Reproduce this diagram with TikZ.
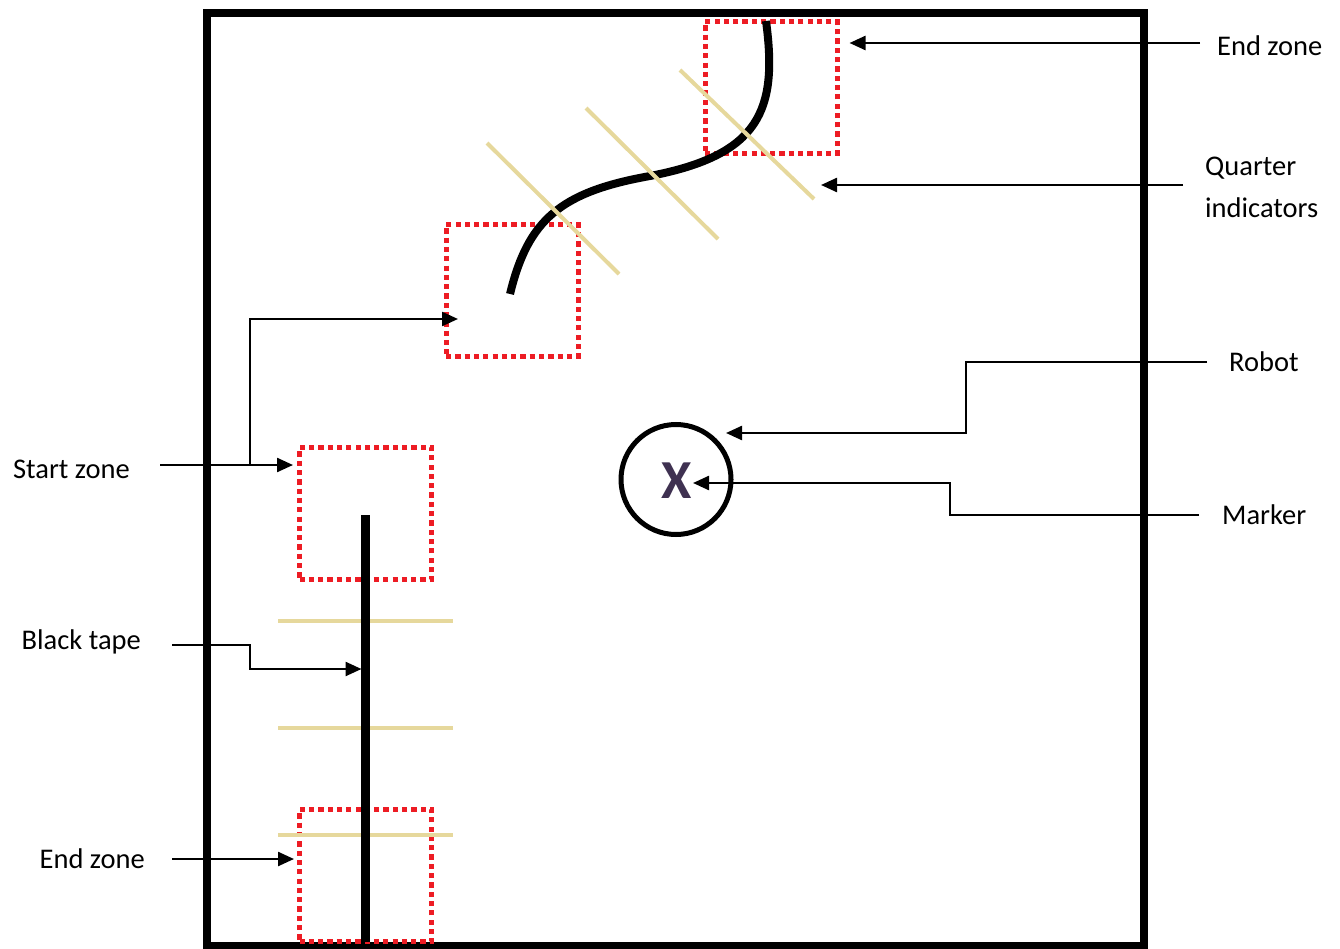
\documentclass[tikz,border=0pt]{standalone}
\usepackage{fontspec}
\setmainfont{Carlito}
\usetikzlibrary{arrows.meta,positioning}
\definecolor{zonered}{HTML}{ED1C24}
\definecolor{quartertan}{HTML}{E6D89C}
\definecolor{markerpurple}{HTML}{3F3151}

\begin{document}
\begin{tikzpicture}[x=1pt,y=-1pt,
   zone/.style={draw=zonered,line width=5pt,dash pattern=on 5.2pt off 4.1pt,
      minimum size=132pt,inner sep=0pt},
   quarter/.style={draw=quartertan,line width=4pt},
   tape/.style={line width=9pt},
   pointer/.style={-{Triangle[length=16pt,width=14pt]},line width=2.4pt},
   lbl/.style={font=\fontsize{28.5}{42}\selectfont,inner sep=0pt,align=left}]
\useasboundingbox (0,0) rectangle (1340,949);
\draw[line width=7.5pt] (207,13) rectangle (1144,946);
% start and end zones
\node[zone] (endcurve) at (771,87.5) {};
\node[zone] (startcurve) at (512,290.5) {};
\node[zone] (starttape) at (365.5,513.5) {};
\node[zone] (endtape) at (365.5,875.5) {};
% curved tape
\draw[line width=8pt] (510,294) .. controls (528,220) and (560,192) .. (650,176)
   .. controls (760,155) and (778,110) .. (766,21);
% quarter indicators
\foreach \xa/\ya/\xb/\yb in {487/143/619/274,586/108/718/239,680/70/814/199}
   \draw[quarter] (\xa,\ya) -- (\xb,\yb);
\foreach \y in {621,728,835}
   \draw[quarter] (278,\y) -- (453,\y);
% straight tape
\coordinate (tapetop) at (365.5,515);
\coordinate (tapebot) at (365.5,942);
\draw[tape] (tapetop) -- (tapebot);
% robot and marker
\node[draw,circle,line width=5pt,minimum size=110pt,inner sep=0pt] (robot) at (676,479.5) {};
\node[font=\fontsize{55}{60}\selectfont\bfseries,text=markerpurple,inner sep=0pt] (marker) at (677,481) {X};
% labels
\coordinate (endcurvetail) at (1200,43);
\coordinate (quartertail) at (1183,185);
\coordinate (robottail) at (1207,362);
\coordinate (markertail) at (1199,515);
\coordinate (starttail) at (160,465);
\coordinate (tapetail) at (172,645);
\coordinate (endtapetail) at (172,859);
\node[lbl,right=17pt of endcurvetail,yshift=-3pt] (endcurvelbl) {End zone};
\node[lbl,right=22pt of quartertail,yshift=-2pt] (quarterlbl) {Quarter\\indicators};
\node[lbl,right=22pt of robottail] (robotlbl) {Robot};
\node[lbl,right=23pt of markertail] (markerlbl) {Marker};
\node[lbl,left=30pt of starttail,yshift=-4pt] (startlbl) {Start zone};
\node[lbl,left=31pt of tapetail,yshift=3pt] (tapelbl) {Black tape};
\node[lbl,left=27pt of endtapetail] (endtapelbl) {End zone};
% pointers
\coordinate (fork) at (250,465);
\draw[pointer] (endcurvetail) -- ([xshift=10pt]endcurve.east |- endcurvetail);
\draw[pointer] (quartertail) -- (821,185);
\draw[pointer] (robottail) -- (966,362) -- (966,433) -- (726,433);
\draw[pointer] (markertail) -- (950,515) -- (950,483) -- (693,483);
\draw[pointer] (starttail) -- ([xshift=-4pt]starttape.west |- starttail);
\draw[pointer] (fork) -- (250,319) -- (458,319);
\draw[pointer] (tapetail) -- (250,645) -- (250,669) -- ([xshift=-4pt]tapetop |- 0,669);
\draw[pointer] (endtapetail) -- ([xshift=-3pt]endtape.west |- endtapetail);
\end{tikzpicture}
\end{document}
